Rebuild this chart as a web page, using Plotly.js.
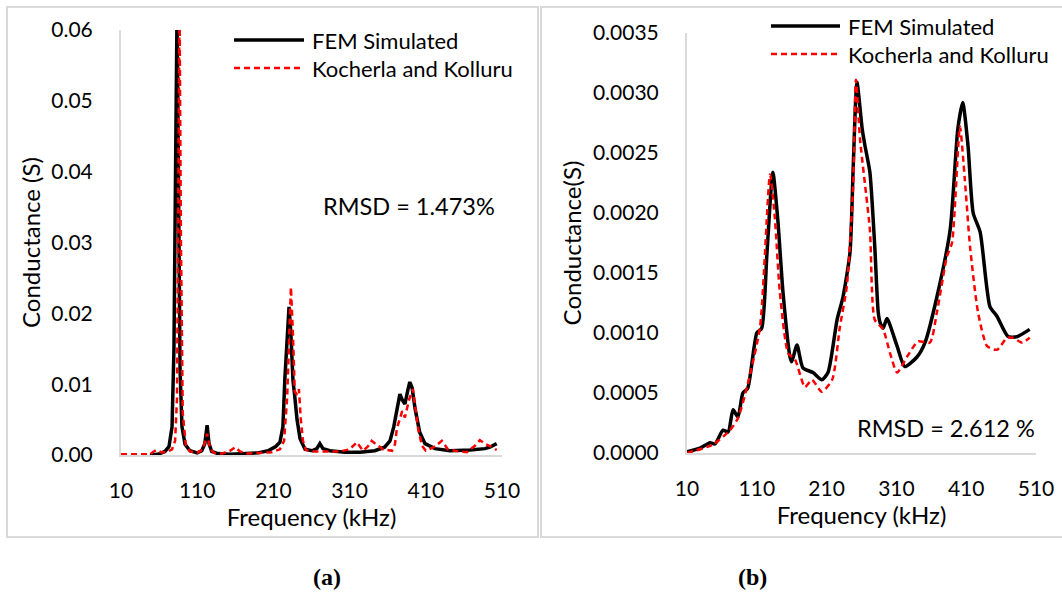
<!DOCTYPE html>
<html>
<head>
<meta charset="utf-8">
<script src="https://cdn.plot.ly/plotly-3.0.1.min.js"></script>
<style>html,body{margin:0;padding:0;background:#fff;}#chart{width:1062px;height:594px;}</style>
</head>
<body>
<div id="chart"></div>
<script>
// ---------- Data: panel (a) ----------
const freqA_fem = [48, 58.5, 67.7, 73, 77, 79.5, 82, 83.5, 85, 87.5, 90, 94, 100.5, 110, 116, 120, 123, 125.5, 129, 137, 153, 173, 190, 203, 213, 218.6, 222.5, 225, 228, 230.5, 233, 235.7, 238, 241, 245, 251.5, 260.6, 267, 271, 275, 284, 304, 323.6, 343, 356, 363, 368, 372, 376, 379, 382.6, 386.5, 389, 392, 396, 402, 409, 422, 441.6, 468, 487.6, 494, 503];
const condA_fem = [0, 0.0001, 0.0005, 0.0012, 0.004, 0.015, 0.045, 0.062, 0.045, 0.012, 0.004, 0.0015, 0.0006, 0.0003, 0.0006, 0.0016, 0.0042, 0.0016, 0.0005, 0.0002, 0.0001, 0.0002, 0.0003, 0.0006, 0.0012, 0.0018, 0.004, 0.0107, 0.017, 0.0209, 0.017, 0.0105, 0.0083, 0.005, 0.0023, 0.0008, 0.0006, 0.0009, 0.0016, 0.0009, 0.0006, 0.0004, 0.0004, 0.0006, 0.0011, 0.002, 0.004, 0.0062, 0.0086, 0.0078, 0.0072, 0.0092, 0.0103, 0.0095, 0.0065, 0.0032, 0.0016, 0.0009, 0.0006, 0.0007, 0.0009, 0.0011, 0.0016];
const freqA_kk = [10, 48, 53, 57, 62.5, 70, 77, 81, 83.5, 85.5, 86.8, 88.7, 91, 95, 100.5, 110, 117.6, 123, 127, 132, 142.5, 153, 160, 166, 176.6, 192, 208, 218.6, 224, 228, 230.5, 233, 235.7, 238, 241, 243.5, 246, 248.8, 252.7, 260.6, 271, 284, 297, 310, 319.6, 327.5, 334, 339, 346, 353.7, 365.6, 369.5, 372, 379, 382.6, 388, 393, 397, 400, 405, 410, 422, 431, 439, 448, 464, 474.5, 481, 489, 497, 503];
const condA_kk = [0.0001, 0.0001, 0.0005, 0.0007, 0.0004, 0.0004, 0.0008, 0.002, 0.008, 0.035, 0.064, 0.03, 0.006, 0.0015, 0.0005, 0.0003, 0.0008, 0.003, 0.0009, 0.0003, 0.0002, 0.0006, 0.0011, 0.0005, 0.0002, 0.0003, 0.0004, 0.0008, 0.002, 0.008, 0.017, 0.0237, 0.017, 0.009, 0.0085, 0.0093, 0.005, 0.002, 0.0007, 0.0005, 0.0005, 0.0005, 0.0005, 0.0008, 0.0018, 0.0006, 0.0012, 0.002, 0.0014, 0.0008, 0.0006, 0.0015, 0.0037, 0.0062, 0.0053, 0.0078, 0.0093, 0.006, 0.0037, 0.0013, 0.0006, 0.0012, 0.002, 0.0008, 0.0006, 0.0004, 0.0013, 0.0021, 0.0015, 0.0011, 0.0007];

// ---------- Data: panel (b) ----------
const freqB_fem = [10, 28.6, 43, 50, 61.6, 69, 76, 83, 90, 97, 110, 117, 124.6, 133, 140, 147.5, 157.6, 160, 167.6, 176, 190.5, 203, 212, 225, 233.5, 243.5, 248, 253.5, 261, 265, 272, 279, 284, 287, 291, 296.5, 311, 322, 339.5, 351, 368, 387, 398, 405, 412.6, 420, 430, 444, 454, 470, 483, 501];
const condB_fem = [0.00001, 0.00004, 0.000086, 0.000075, 0.00019, 0.000175, 0.00036, 0.0003, 0.0005, 0.00054, 0.001, 0.00104, 0.00167, 0.00234, 0.00195, 0.00134, 0.0008, 0.00076, 0.0009, 0.00071, 0.00067, 0.00061, 0.00067, 0.00111, 0.0013, 0.00167, 0.00236, 0.00309, 0.0027, 0.00256, 0.00234, 0.00172, 0.00117, 0.00108, 0.00104, 0.00112, 0.00089, 0.00072, 0.0008, 0.00092, 0.0013, 0.00186, 0.0027, 0.00292, 0.00256, 0.002, 0.00184, 0.00122, 0.00114, 0.00097, 0.00097, 0.00103];
const freqB_kk = [10, 47, 71.6, 83, 96, 114.6, 129, 136, 143, 155, 164.7, 179, 189, 203, 218, 229, 239, 248, 252, 258, 272, 279, 291, 301, 311, 325, 341, 358, 368, 382.5, 389.6, 401, 408, 415.5, 427, 440, 454, 468.5, 477, 490, 501];
const condB_kk = [0, 0.00007, 0.00019, 0.00029, 0.00055, 0.00105, 0.00232, 0.00195, 0.00134, 0.00083, 0.00078, 0.00055, 0.00061, 0.00051, 0.00061, 0.00105, 0.00139, 0.00222, 0.00311, 0.00261, 0.00186, 0.00111, 0.00103, 0.00083, 0.00067, 0.0008, 0.00093, 0.00092, 0.00117, 0.00164, 0.00175, 0.00272, 0.00228, 0.00172, 0.00117, 0.00089, 0.00086, 0.00096, 0.00096, 0.00092, 0.00096];

const xTicks = [10, 110, 210, 310, 410, 510];
const seriesNames = ['FEM Simulated', 'Kocherla and Kolluru'];
const yTitleA = 'Conductance (S)';
const yTitleB = 'Conductance(S)';
const xTitle = 'Frequency (kHz)';
const rmsdA = 'RMSD = 1.473%';
const rmsdB = 'RMSD = 2.612 %';
const captions = ['(a)', '(b)'];

// ---------- Layout helpers ----------
const W = 1062, H = 594;
const px = v => v / W;
const py = v => 1 - v / H;
const FONT = 'Lato, "Open Sans", sans-serif';
const GRAY = '#d9d9d9';
const tf = {family: FONT, size: 21, color: '#000'};
const titleFont = {family: FONT, size: 24, color: '#000'};
const legFont = {family: FONT, size: 22, color: '#000'};
const rmsdFont = {family: FONT, size: 23.5, color: '#000'};
const capFont = {family: '"Liberation Serif", "Times New Roman", serif', size: 24, color: '#000'};

const femLine = {color: '#000000', width: 3.5};
const kkLine = {color: '#ff0000', width: 2.5, dash: '6px,4px'};

const traces = [
  {x: freqA_fem, y: condA_fem, xaxis: 'x', yaxis: 'y', mode: 'lines', name: seriesNames[0], line: femLine, showlegend: false},
  {x: freqA_kk, y: condA_kk, xaxis: 'x', yaxis: 'y', mode: 'lines', name: seriesNames[1], line: kkLine, showlegend: false},
  {x: freqB_fem, y: condB_fem, xaxis: 'x2', yaxis: 'y2', mode: 'lines', name: seriesNames[0], line: Object.assign({shape: 'spline', smoothing: 0.6}, femLine), showlegend: false},
  {x: freqB_kk, y: condB_kk, xaxis: 'x2', yaxis: 'y2', mode: 'lines', name: seriesNames[1], line: Object.assign({shape: 'spline', smoothing: 0.6}, kkLine), showlegend: false}
];

function xAxis(domain, anchor) {
  return {domain: domain, anchor: anchor, range: [10, 510], tickvals: xTicks, ticktext: xTicks.map(String),
    showgrid: false, zeroline: false, showline: true, linecolor: GRAY, linewidth: 2, ticks: '',
    tickfont: tf, ticklabelstandoff: 16, automargin: false, fixedrange: true,
    title: {text: xTitle, font: titleFont, standoff: 7}};
}
function yAxis(domain, anchor, range, dtick, fmt, title, standoff) {
  return {domain: domain, anchor: anchor, range: range, dtick: dtick, tick0: 0, tickformat: fmt,
    showgrid: false, zeroline: false, showline: true, linecolor: GRAY, linewidth: 2, ticks: '',
    tickfont: tf, ticklabelstandoff: 22, automargin: false, fixedrange: true,
    title: {text: title, font: titleFont, standoff: standoff}};
}

function legendShapes(x0, x1, y1, y2) {
  return [
    {type: 'line', xref: 'paper', yref: 'paper', x0: px(x0), x1: px(x1), y0: py(y1), y1: py(y1), line: {color: '#000', width: 3.5}},
    {type: 'line', xref: 'paper', yref: 'paper', x0: px(x0), x1: px(x1), y0: py(y2), y1: py(y2), line: {color: '#ff0000', width: 2.5, dash: '6px,4px'}}
  ];
}
function txt(text, x, y, anchor, font) {
  return {text: text, xref: 'paper', yref: 'paper', x: px(x), y: py(y), xanchor: anchor, yanchor: 'middle', showarrow: false, font: font || tf};
}

const layout = {
  width: W, height: H, margin: {l: 0, r: 0, t: 0, b: 0},
  paper_bgcolor: '#ffffff', plot_bgcolor: '#ffffff', showlegend: false,
  xaxis: xAxis([px(121), px(502)], 'y'),
  yaxis: yAxis([py(455), py(30)], 'x', [0, 0.06], 0.01, '.2f', yTitleA, 4),
  xaxis2: xAxis([px(687), px(1036)], 'y2'),
  yaxis2: yAxis([py(453), py(33)], 'x2', [0, 0.0035], 0.0005, '.4f', yTitleB, 5),
  shapes: [
    {type: 'rect', xref: 'paper', yref: 'paper', x0: px(7), x1: px(538), y0: py(537), y1: py(7), line: {color: GRAY, width: 2}, layer: 'below'},
    {type: 'rect', xref: 'paper', yref: 'paper', x0: px(541), x1: px(1066), y0: py(537), y1: py(7), line: {color: GRAY, width: 2}, layer: 'below'}
  ].concat(legendShapes(234, 304, 40, 68), legendShapes(771, 840, 26, 54)),
  annotations: [
    txt(seriesNames[0], 310, 40, 'left', legFont),
    txt(seriesNames[1], 310, 68, 'left', legFont),
    txt(seriesNames[0], 846, 26, 'left', legFont),
    txt(seriesNames[1], 846, 54, 'left', legFont),
    txt(rmsdA, 409, 206, 'center', rmsdFont),
    txt(rmsdB, 946, 428, 'center', rmsdFont),
    txt('<b>' + captions[0] + '</b>', 327, 577, 'center', capFont),
    txt('<b>' + captions[1] + '</b>', 752, 577, 'center', capFont)
  ]
};

Plotly.newPlot('chart', traces, layout, {displayModeBar: false, staticPlot: true});
</script>
</body>
</html>
